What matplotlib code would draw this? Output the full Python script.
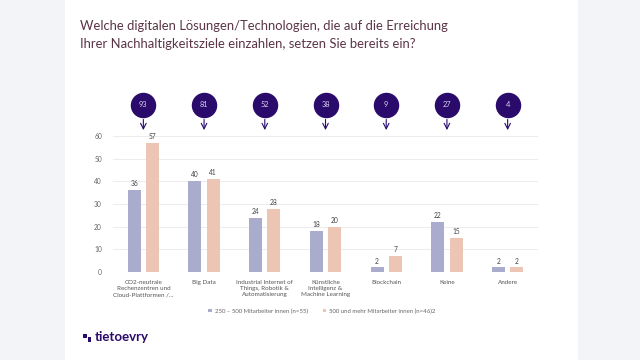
import numpy as np
import matplotlib
matplotlib.use("Agg")
import matplotlib.pyplot as plt
from matplotlib.patches import Rectangle

# data
categories = [
    "CO2-neutrale\nRechenzentren und\nCloud-Plattformen /...",
    "Big Data",
    "Industrial Internet of\nThings, Robotik &\nAutomatisierung",
    "Künstliche\nIntelligenz &\nMachine Learning",
    "Blockchain",
    "Keine",
    "Andere",
]
small_firms = [36, 40, 24, 18, 2, 22, 2]
large_firms = [57, 41, 28, 20, 7, 15, 2]
totals = [93, 81, 52, 38, 9, 27, 4]
series_names = ["250 – 500 Mitarbeiter innen (n=55)",
                "500 und mehr Mitarbeiter innen (n=46)2"]

plt.rcParams['font.family'] = ['Lato', 'DejaVu Sans']

c_blue = '#aaaccd'
c_pink = '#ecc5b5'
c_dark = '#2a0b6b'
c_text = '#555555'

fig = plt.figure(figsize=(6.4, 3.6), dpi=100)
fig.patch.set_facecolor('#f3f4f7')
# white slide panel
fig.patches.append(Rectangle((65 / 640, 0), (578 - 65) / 640, 1, transform=fig.transFigure,
                             facecolor='white', edgecolor='none', zorder=-5))

fig.text(80 / 640, 1 - 35 / 360,
         "Welche digitalen Lösungen/Technologien, die auf die Erreichung\n"
         "Ihrer Nachhaltigkeitsziele einzahlen, setzen Sie bereits ein?",
         fontsize=9.4, color='#5a3446', va='center', ha='left', linespacing=1.6)

ax = fig.add_axes([113 / 640, 1 - 272 / 360, 425 / 640, 136 / 360])
ax.set_facecolor('none')

x = np.arange(len(categories))
w = 0.215
off = 0.15
b1 = ax.bar(x - off, small_firms, w, color=c_blue, label=series_names[0], zorder=3)
b2 = ax.bar(x + off, large_firms, w, color=c_pink, label=series_names[1], zorder=3)
for bars in (b1, b2):
    for r in bars:
        ax.text(r.get_x() + r.get_width() / 2, r.get_height() + 1.3, "%d" % r.get_height(),
                ha='center', va='bottom', fontsize=4.8, color='#444444')

ax.set_xlim(-0.5, len(categories) - 0.5)
ax.set_ylim(0, 60)
ax.set_yticks(np.arange(0, 61, 10))
ax.yaxis.grid(True, color='#ececec', linewidth=0.7, zorder=0)
ax.tick_params(axis='y', length=0, labelsize=4.8, labelcolor='#666666', pad=8)
ax.set_xticks(x)
ax.set_xticklabels(categories, fontsize=4.5, color=c_text, linespacing=1.25)
ax.tick_params(axis='x', length=0, pad=6)
for s in ax.spines.values():
    s.set_visible(False)

# total bubbles with arrows
ax.scatter(x, [73.7] * len(x), s=300, color=c_dark, clip_on=False, zorder=5)
for xi, t in zip(x, totals):
    ax.text(xi, 73.7, str(t), ha='center', va='center', fontsize=5.3, color='#d8d0f0',
            clip_on=False, zorder=6)
    ax.annotate('', xy=(xi, 62.6), xytext=(xi, 67.3),
                arrowprops=dict(arrowstyle='->', color=c_dark, lw=0.8,
                                shrinkA=0, shrinkB=0), annotation_clip=False)

fig.legend(loc='center', bbox_to_anchor=(322 / 640, 1 - 311 / 360), ncol=2, frameon=False,
           fontsize=4.3, handlelength=0.6, handleheight=0.6, columnspacing=2.5,
           handletextpad=0.5, labelcolor='#666666')

# logo
fig.patches.append(Rectangle((83 / 640, 1 - 338 / 360), 4 / 640, 4 / 360, transform=fig.transFigure,
                             facecolor=c_dark, edgecolor='none'))
fig.patches.append(Rectangle((88 / 640, 1 - 342 / 360), 3 / 640, 5 / 360, transform=fig.transFigure,
                             facecolor=c_dark, edgecolor='none'))
fig.text(95 / 640, 1 - 337 / 360, "tietoevry", fontsize=9.5, color=c_dark,
         fontweight='bold', va='center', ha='left')

fig.savefig('out.png', dpi=100)
